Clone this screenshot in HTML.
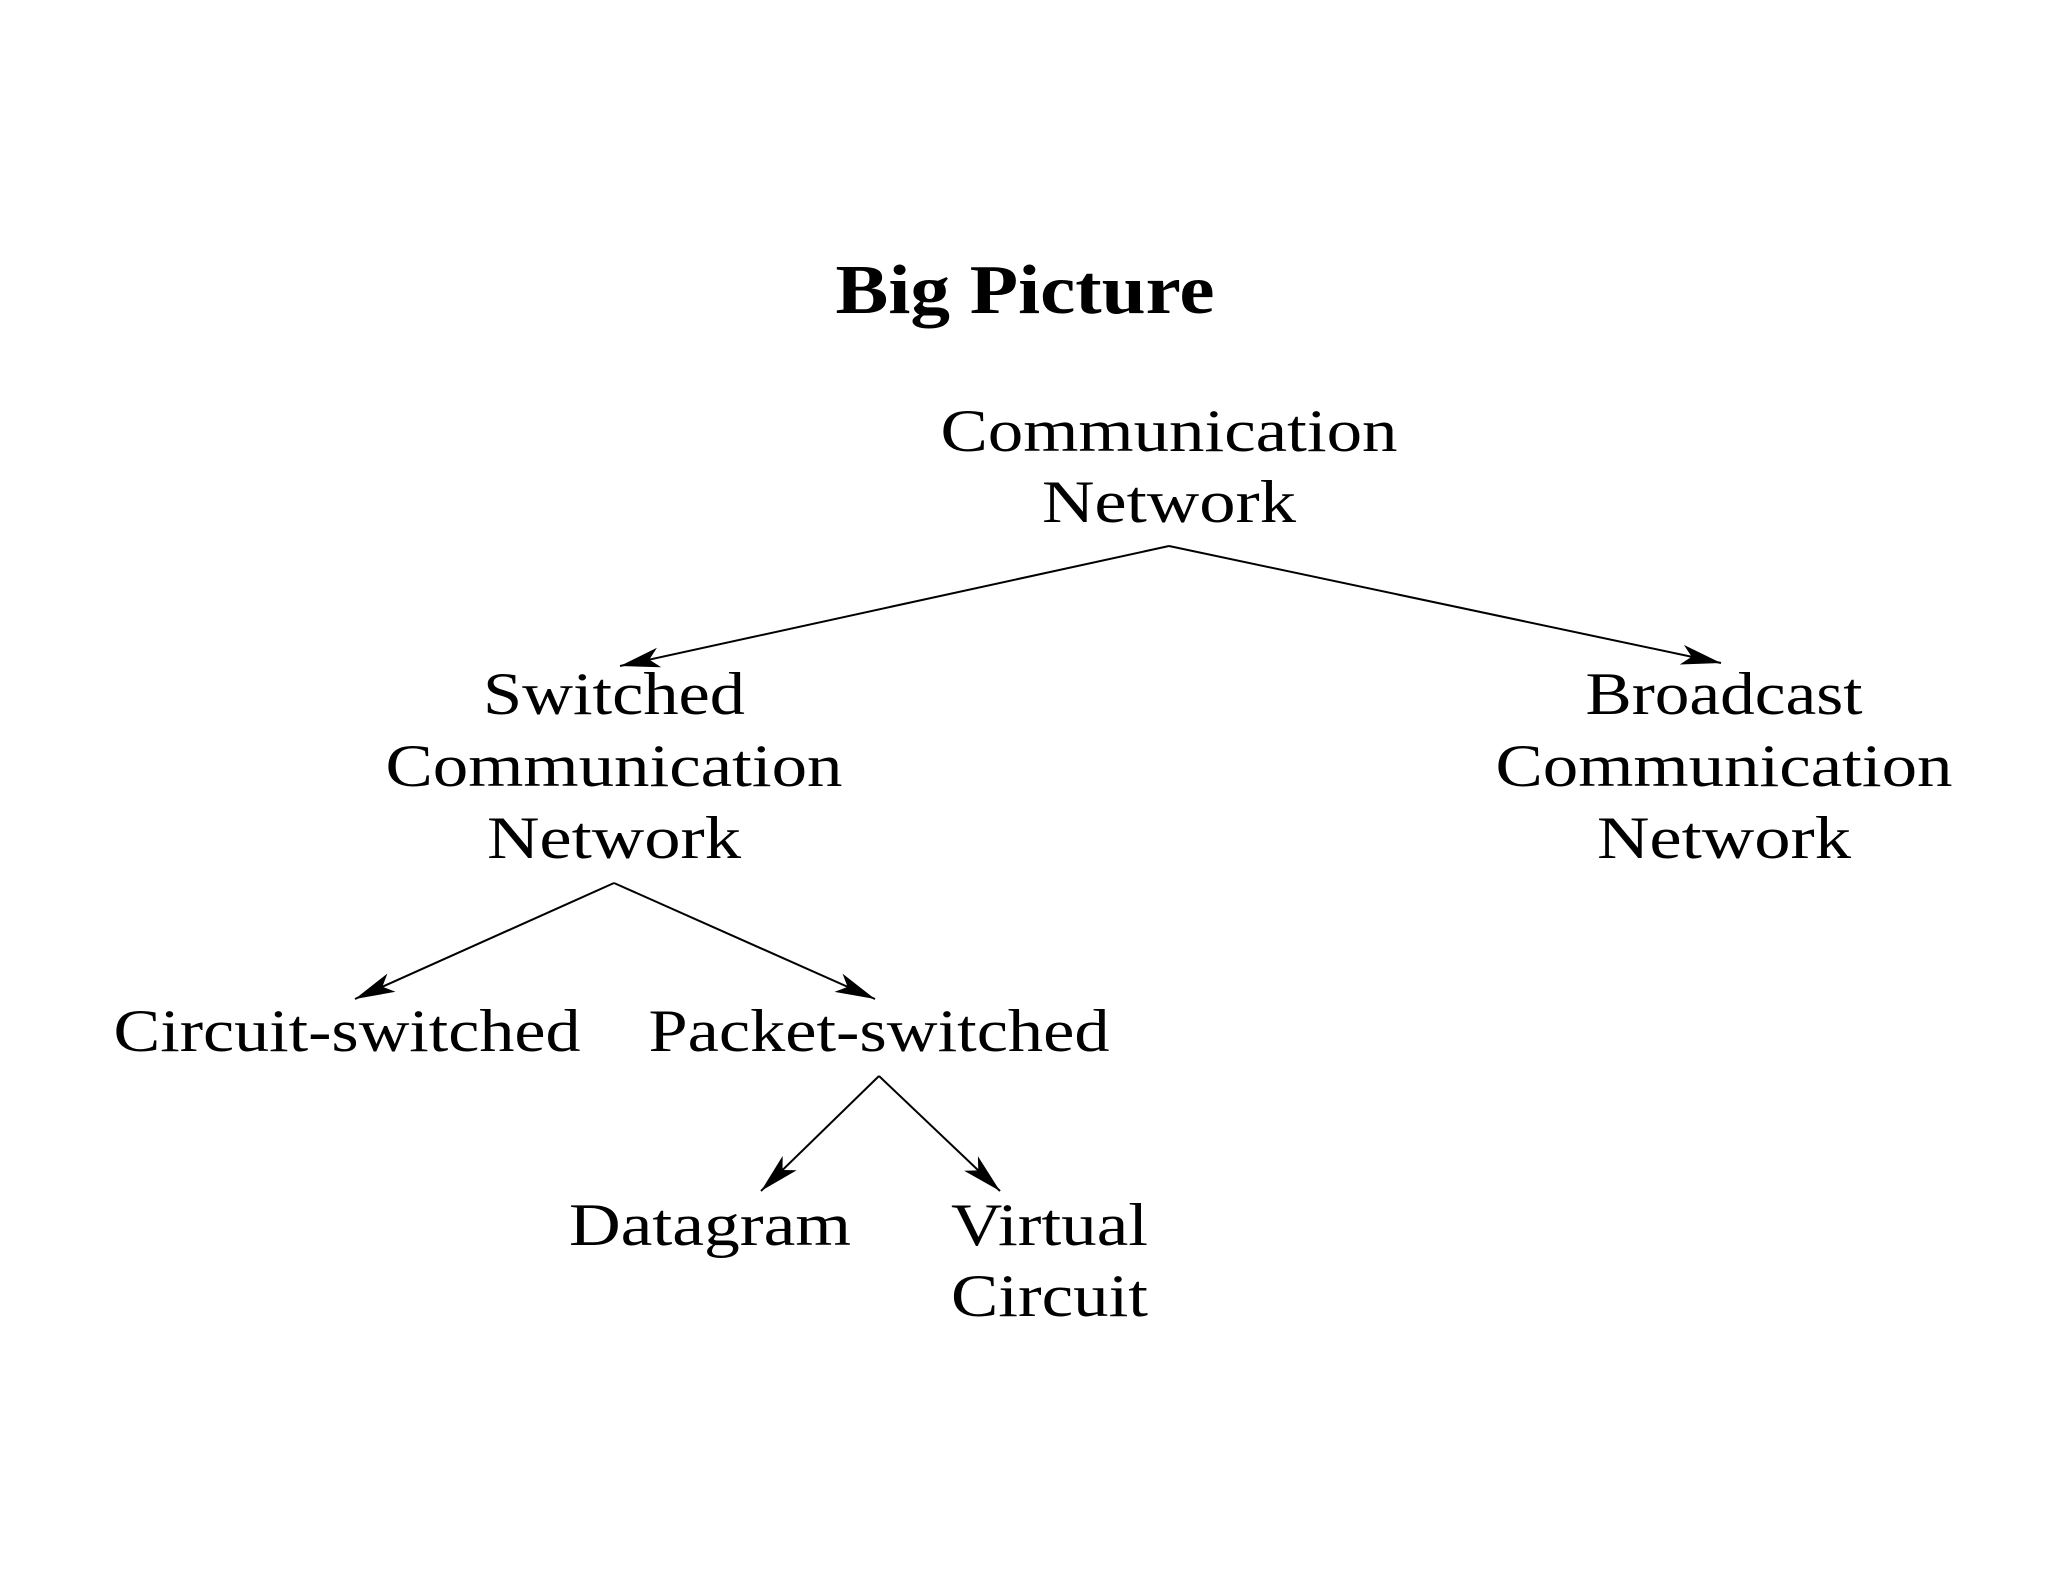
<!DOCTYPE html>
<html><head><meta charset="utf-8"><style>html,body{margin:0;padding:0;background:#fff}</style></head>
<body>
<svg width="2048" height="1582" viewBox="0 0 2048 1582" xmlns="http://www.w3.org/2000/svg" font-family="Liberation Serif, serif" fill="#000">
<defs>
<marker id="a" viewBox="0 0 20 10" refX="20" refY="5" markerWidth="40" markerHeight="20" markerUnits="userSpaceOnUse" orient="auto">
<path d="M0,0 L20,5 L0,10 L5,5 Z" fill="#000"/>
</marker>
</defs>
<text x="1025" y="313" font-size="70" font-weight="bold" text-anchor="middle" textLength="379" lengthAdjust="spacingAndGlyphs">Big Picture</text>
<g font-size="60" text-anchor="middle">
<text x="1169" y="451" textLength="457" lengthAdjust="spacingAndGlyphs">Communication</text>
<text x="1169" y="522" textLength="254" lengthAdjust="spacingAndGlyphs">Network</text>
<text x="614" y="714" textLength="262" lengthAdjust="spacingAndGlyphs">Switched</text>
<text x="614" y="786" textLength="457" lengthAdjust="spacingAndGlyphs">Communication</text>
<text x="614" y="858" textLength="254" lengthAdjust="spacingAndGlyphs">Network</text>
<text x="1724" y="714" textLength="277" lengthAdjust="spacingAndGlyphs">Broadcast</text>
<text x="1724" y="786" textLength="457" lengthAdjust="spacingAndGlyphs">Communication</text>
<text x="1724" y="858" textLength="254" lengthAdjust="spacingAndGlyphs">Network</text>
<text x="347" y="1051" textLength="467" lengthAdjust="spacingAndGlyphs">Circuit-switched</text>
<text x="879" y="1051" textLength="461" lengthAdjust="spacingAndGlyphs">Packet-switched</text>
<text x="710" y="1245" textLength="282" lengthAdjust="spacingAndGlyphs">Datagram</text>
</g>
<g font-size="60">
<text x="951" y="1245" textLength="197" lengthAdjust="spacingAndGlyphs">Virtual</text>
<text x="951" y="1316" textLength="197" lengthAdjust="spacingAndGlyphs">Circuit</text>
</g>
<g stroke="#000" stroke-width="2" fill="none">
<line x1="1169" y1="546" x2="620" y2="666" marker-end="url(#a)"/>
<line x1="1169" y1="546" x2="1721" y2="663" marker-end="url(#a)"/>
<line x1="614" y1="883" x2="355" y2="999" marker-end="url(#a)"/>
<line x1="614" y1="883" x2="875" y2="999" marker-end="url(#a)"/>
<line x1="879" y1="1076" x2="761" y2="1191" marker-end="url(#a)"/>
<line x1="879" y1="1076" x2="1000" y2="1191" marker-end="url(#a)"/>
</g>
</svg>
</body></html>
